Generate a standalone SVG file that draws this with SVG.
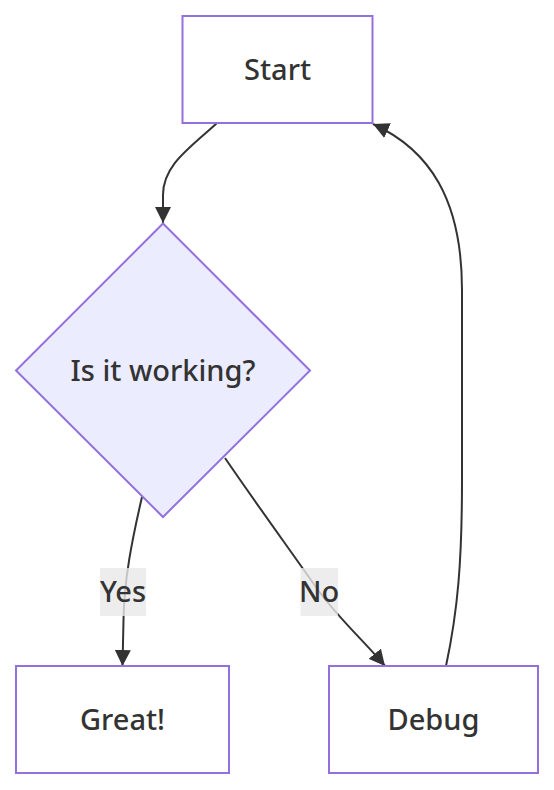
<svg xmlns="http://www.w3.org/2000/svg" width="554" height="790" viewBox="0 0 554 790">
<style>
.node rect, .node polygon { stroke: #9370DB; stroke-width: 2; }
.node rect { fill: #ffffff; }
.node polygon { fill: #ECECFF; }
.lbl { font-family: "Noto Sans", "DejaVu Sans", sans-serif; font-size: 29px; font-weight: 500; fill: #333333; text-anchor: middle; }
.edge { fill: none; stroke: #333333; stroke-width: 2; marker-end: url(#arrow); }
.elbl rect { fill: #e8e8e8; fill-opacity: 0.8; }
</style>
<defs>
<marker id="arrow" viewBox="0 0 10 10" refX="10" refY="5" markerUnits="userSpaceOnUse" markerWidth="16" markerHeight="16" orient="auto">
<path d="M0,0 L10,5 L0,10 z" fill="#333333"/>
</marker>
</defs>
<rect width="554" height="790" fill="#ffffff"/>
<g id="edges">
<path class="edge" d="M217,123 C190,148 163,165 163,195 L163,223"/>
<path class="edge" d="M142,497 C132,540 124,580 123.5,620 L122.5,666"/>
<path class="edge" d="M225,458 C255,502 290,550 318,590 C340,620 365,642 385,666"/>
<path class="edge" d="M446,666 C458,610 462,560 462,480 L462,290 C462,200 430,150 373,124"/>
</g>
<g id="start" class="node">
<rect x="182.5" y="16" width="190" height="107"/>
<text class="lbl" x="277.5" y="80">Start</text>
</g>
<g id="decision" class="node">
<polygon points="163,223.5 310,370.5 163,517 16,370.5"/>
<text class="lbl" x="163" y="381">Is it working?</text>
</g>
<g id="great" class="node">
<rect x="16" y="666" width="213" height="107"/>
<text class="lbl" x="122.5" y="729.5">Great!</text>
</g>
<g id="debug" class="node">
<rect x="329" y="666" width="209" height="107"/>
<text class="lbl" x="433.5" y="729.5">Debug</text>
</g>
<g id="label-yes" class="elbl">
<rect x="100" y="568" width="46" height="48"/>
<text class="lbl" x="123" y="601.5">Yes</text>
</g>
<g id="label-no" class="elbl">
<rect x="300.5" y="568" width="37.5" height="48"/>
<text class="lbl" x="319" y="601.5">No</text>
</g>
</svg>
